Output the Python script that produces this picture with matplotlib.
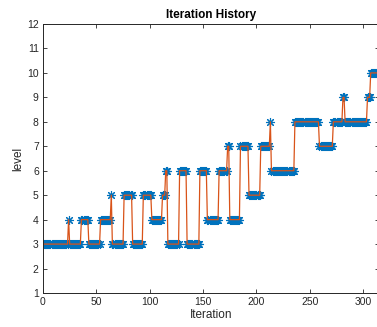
import matplotlib
matplotlib.use("Agg")
import matplotlib.pyplot as plt
import numpy as np

plt.rcParams['font.family'] = ['Liberation Sans', 'DejaVu Sans']

# run-length encoded level history
levels = [3, 4, 3, 4, 3, 4, 5, 3, 5, 3, 5, 4, 5, 6, 3, 6, 3, 6, 4, 6, 7, 4, 7, 5, 7, 8,
          6, 8, 7, 8, 9, 8, 9, 10]
run_lengths = [23, 1, 11, 7, 11, 10, 1, 11, 8, 10, 8, 10, 3, 2, 11, 7, 12, 7, 11, 8, 2, 10,
               8, 11, 9, 1, 22, 23, 13, 9, 2, 21, 3, 8]

level = np.repeat(levels, run_lengths)
iteration = np.arange(1, len(level) + 1)

blue = (0, 0.447, 0.741)
orange = (0.85, 0.325, 0.098)
axcol = (0.15, 0.15, 0.15)

fig = plt.figure(figsize=(3.77, 3.27), dpi=100)
ax = fig.add_axes([0.114, 0.104, 0.892, 0.8226])

# MATLAB-style asterisk: 8 spokes
ax.plot(iteration, level, linestyle='none', marker=(8, 2, 0), color=blue,
        markersize=6.5, markeredgewidth=0.8)
ax.plot(iteration, level, '-', color=orange, linewidth=0.9)

ax.set_xlim(0, 315)
ax.set_ylim(1, 12)
ax.set_xticks(range(0, 301, 50))
ax.set_yticks(range(1, 13))
ax.tick_params(direction='in', length=3, width=0.6, labelsize=7.5, colors=axcol,
               top=True, right=True, pad=3)
for side in ax.spines.values():
    side.set_color(axcol)
    side.set_linewidth(0.7)

ax.set_xlabel('Iteration', fontsize=8.5, color=axcol, labelpad=1)
ax.set_ylabel('level', fontsize=8.5, color=axcol, labelpad=2)
ax.set_title('Iteration History', fontsize=8.5, fontweight='bold', pad=4)

fig.savefig('out.png', dpi=100)
